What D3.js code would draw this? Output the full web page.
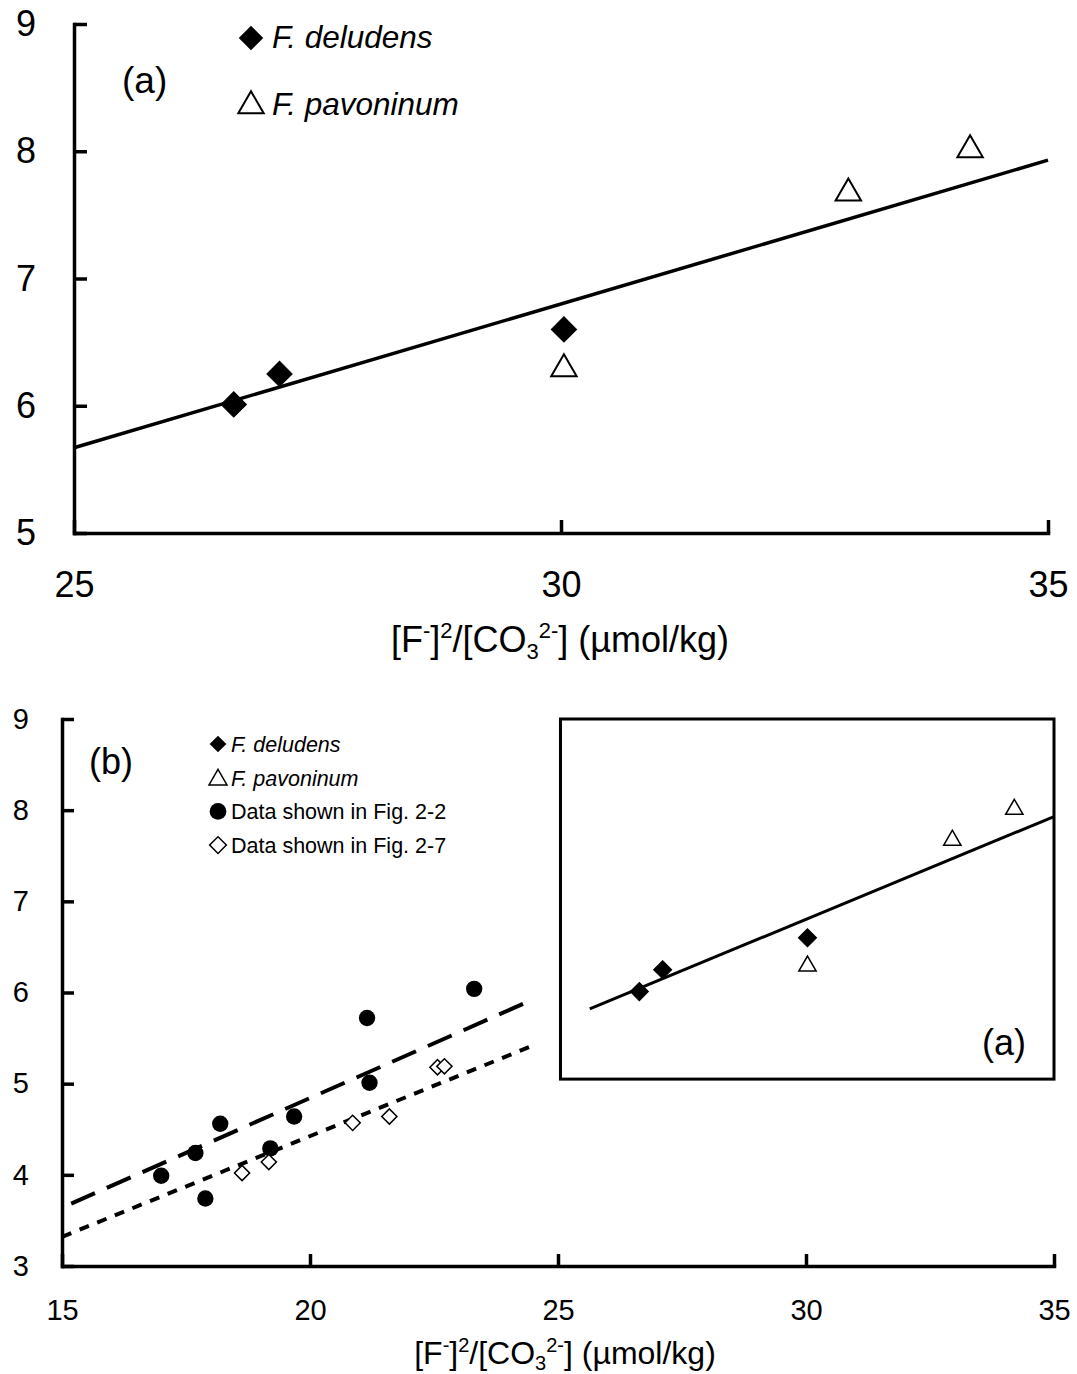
<!DOCTYPE html>
<html lang="en">
<head>
<meta charset="utf-8">
<title>F- squared over CO3 2- plots</title>
<script src="https://d3js.org/d3.v7.min.js"></script>
<style>
  body { margin: 0; background: #fff; }
  text { font-family: "Liberation Sans", Arial, sans-serif; fill: #000; }
</style>
</head>
<body>
<script>
// ---- data ----
// panel (a)
var deludensX = [26.64, 27.11, 30.03];
var deludensY = [6.01, 6.25, 6.60];
var pavoninumX = [30.03, 32.95, 34.2];
var pavoninumY = [6.29, 7.67, 8.01];
var fitAX = [25, 35];
var fitAY = [5.67, 7.93];
var ticksAX = [25, 30, 35];
var ticksAY = [5, 6, 7, 8, 9];

// panel (b)
var fig22X = [17.0, 17.69, 17.89, 18.19, 19.2, 19.68, 21.15, 21.2, 23.31];
var fig22Y = [3.99, 4.24, 3.74, 4.56, 4.29, 4.64, 5.72, 5.01, 6.04];
var fig27X = [18.63, 19.17, 20.86, 21.6, 22.57, 22.71];
var fig27Y = [4.02, 4.14, 4.57, 4.64, 5.18, 5.19];
var fit22X = [15, 24.4];
var fit22Y = [3.64, 5.9];
var fit27X = [15, 24.55];
var fit27Y = [3.32, 5.43];
var insetFitX = [25.64, 35];
var insetFitY = [5.82, 7.93];
var insetBoxX = [25.05, 35];
var insetBoxY = [5.05, 9];
var ticksBX = [15, 20, 25, 30, 35];
var ticksBY = [3, 4, 5, 6, 7, 8, 9];

function pts(xs, ys) { return xs.map(function(x, i) { return {x: x, y: ys[i]}; }); }

var W = 1077, H = 1374;
var svg = d3.select("body").append("svg")
  .attr("width", W).attr("height", H);
svg.append("rect").attr("width", W).attr("height", H).attr("fill", "#fff");

// diamond = square turned 45deg
function marker(g, data, sx, sy, type, size, filled, sw) {
  var sym = type == "diamond" ? d3.symbolSquare : (type == "circle" ? d3.symbolCircle : d3.symbolTriangle);
  g.selectAll(null)
    .data(data)
    .enter()
    .append("path")
    .attr("d", d3.symbol().type(sym).size(size))
    .attr("transform", function(d) {
      return "translate(" + sx(d.x) + "," + sy(d.y) + ")" + (type == "diamond" ? " rotate(45)" : "");
    })
    .attr("fill", filled ? "#000" : "#fff")
    .attr("stroke", "#000")
    .attr("stroke-width", sw);
}

function axisTitle(g, x, y, fs) {
  var t = g.append("text")
    .attr("x", x).attr("y", y)
    .attr("text-anchor", "middle")
    .style("font-size", fs + "px");
  var small = Math.round(fs * 0.62);
  var up = -fs * 0.38, down = fs * 0.2;
  t.append("tspan").text("[F");
  t.append("tspan").style("font-size", small + "px").attr("dy", up).text("-");
  t.append("tspan").attr("dy", -up).text("]");
  t.append("tspan").style("font-size", small + "px").attr("dy", up).text("2");
  t.append("tspan").attr("dy", -up).text("/[CO");
  t.append("tspan").style("font-size", small + "px").attr("dy", down).text("3");
  t.append("tspan").style("font-size", small + "px").attr("dy", up - down).text("2-");
  t.append("tspan").attr("dy", -up).text("] (\u00b5mol/kg)");
}

function drawAxes(g, x, y, xt, yt, fs, pad, tick) {
  var gx = g.append("g")
    .attr("transform", "translate(0," + y.range()[0] + ")")
    .call(d3.axisBottom(x).tickValues(xt).tickSizeInner(-tick).tickSizeOuter(0).tickPadding(pad).tickFormat(d3.format("d")));
  var gy = g.append("g")
    .attr("transform", "translate(" + x.range()[0] + ",0)")
    .call(d3.axisLeft(y).tickValues(yt).tickSizeInner(-tick).tickSizeOuter(0).tickPadding(pad).tickFormat(d3.format("d")));
  [gx, gy].forEach(function(a) {
    a.select(".domain").attr("stroke-width", 3.5).attr("stroke-linecap", "square");
    a.selectAll(".tick line").attr("stroke-width", 3.5);
    a.selectAll(".tick text").style("font-size", fs + "px").attr("font-family", null);
    a.attr("font-family", null).attr("font-size", null);
  });
}

// ===== panel (a) =====
var xA = d3.scaleLinear().domain([25, 35]).range([74, 1048]);
var yA = d3.scaleLinear().domain([5, 9]).range([533, 24]);
var gA = svg.append("g");

var lineA = d3.line().x(function(d) { return xA(d.x); }).y(function(d) { return yA(d.y); });
gA.append("path").datum(pts(fitAX, fitAY))
  .attr("d", lineA).attr("fill", "none").attr("stroke", "#000").attr("stroke-width", 3.5);

drawAxes(gA, xA, yA, ticksAX, ticksAY, 36, 38, 13);

marker(gA, pts(deludensX, deludensY), xA, yA, "diamond", 320, true, 1);
marker(gA, pts(pavoninumX, pavoninumY), xA, yA, "triangle", 280, false, 2);

gA.append("text").attr("x", 122).attr("y", 93).style("font-size", "37px").text("(a)");

// legend (a)
var legA = gA.append("g");
legA.append("path").attr("d", d3.symbol().type(d3.symbolSquare).size(300))
  .attr("transform", "translate(251,38) rotate(45)").attr("fill", "#000");
legA.append("path").attr("d", d3.symbol().type(d3.symbolTriangle).size(280))
  .attr("transform", "translate(251,106)").attr("fill", "#fff").attr("stroke", "#000").attr("stroke-width", 2);
legA.append("text").attr("x", 272).attr("y", 48).style("font-size", "31.5px").style("font-style", "italic").text("F. deludens");
legA.append("text").attr("x", 272).attr("y", 115).style("font-size", "31.5px").style("font-style", "italic").text("F. pavoninum");

axisTitle(gA, 560, 652, 36);

// ===== panel (b) =====
var xB = d3.scaleLinear().domain([15, 35]).range([62, 1054]);
var yB = d3.scaleLinear().domain([3, 9]).range([1266, 719]);
var gB = svg.append("g");
var lineB = d3.line().x(function(d) { return xB(d.x); }).y(function(d) { return yB(d.y); });

gB.append("path").datum(pts(fit22X, fit22Y))
  .attr("d", lineB).attr("fill", "none").attr("stroke", "#000").attr("stroke-width", 4)
  .attr("stroke-dasharray", "26,13").attr("stroke-dashoffset", -10);
gB.append("path").datum(pts(fit27X, fit27Y))
  .attr("d", lineB).attr("fill", "none").attr("stroke", "#000").attr("stroke-width", 4)
  .attr("stroke-dasharray", "10,9");

drawAxes(gB, xB, yB, ticksBX, ticksBY, 29, 33, 12);

marker(gB, pts(fig22X, fig22Y), xB, yB, "circle", 210, true, 0);
marker(gB, pts(fig27X, fig27Y), xB, yB, "diamond", 115, false, 1.5);

// inset copy of (a)
gB.append("rect")
  .attr("x", xB(insetBoxX[0])).attr("y", yB(insetBoxY[1]))
  .attr("width", xB(insetBoxX[1]) - xB(insetBoxX[0]))
  .attr("height", yB(insetBoxY[0]) - yB(insetBoxY[1]))
  .attr("fill", "none").attr("stroke", "#000").attr("stroke-width", 3);
gB.append("path").datum(pts(insetFitX, insetFitY))
  .attr("d", lineB).attr("fill", "none").attr("stroke", "#000").attr("stroke-width", 3);
marker(gB, pts(deludensX, deludensY), xB, yB, "diamond", 165, true, 1);
marker(gB, pts(pavoninumX, pavoninumY), xB, yB, "triangle", 130, false, 1.5);
gB.append("text").attr("x", 982).attr("y", 1055).style("font-size", "36px").text("(a)");

gB.append("text").attr("x", 89).attr("y", 774).style("font-size", "36px").text("(b)");

// legend (b)
var legB = [
  {label: "F. deludens", italic: true, type: "diamond", fill: true},
  {label: "F. pavoninum", italic: true, type: "triangle", fill: false},
  {label: "Data shown in Fig. 2-2", italic: false, type: "circle", fill: true},
  {label: "Data shown in Fig. 2-7", italic: false, type: "diamond", fill: false}
];
var legRows = gB.selectAll(".leg").data(legB).enter().append("g")
  .attr("transform", function(d, i) { return "translate(218," + (744 + i * 33.7) + ")"; });
legRows.append("path")
  .attr("d", function(d) {
    var t = d.type == "diamond" ? d3.symbolSquare : (d.type == "circle" ? d3.symbolCircle : d3.symbolTriangle);
    var s = d.type == "diamond" ? 140 : (d.type == "circle" ? 220 : 140);
    return d3.symbol().type(t).size(s)();
  })
  .attr("transform", function(d) { return d.type == "diamond" ? "rotate(45)" : (d.type == "triangle" ? "translate(0,2)" : ""); })
  .attr("fill", function(d) { return d.fill ? "#000" : "#fff"; })
  .attr("stroke", "#000")
  .attr("stroke-width", function(d) { return d.fill ? 0 : 1.5; });
legRows.append("text")
  .attr("x", 13).attr("y", 8)
  .style("font-size", "21.5px")
  .style("font-style", function(d) { return d.italic ? "italic" : "normal"; })
  .text(function(d) { return d.label; });

axisTitle(gB, 565, 1364, 32);
</script>
</body>
</html>
